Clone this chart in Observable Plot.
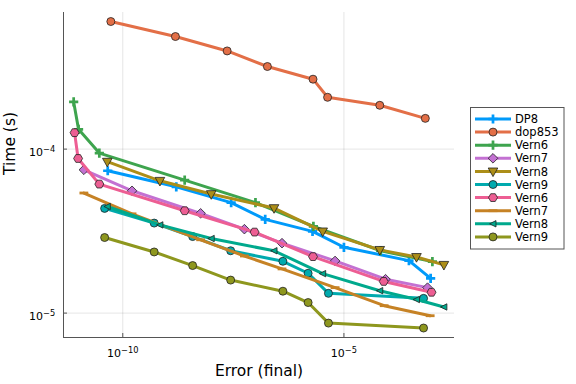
<!DOCTYPE html>
<html>
<head>
<meta charset="utf-8">
<script src="https://cdn.jsdelivr.net/npm/d3@7"></script>
<script src="https://cdn.jsdelivr.net/npm/@observablehq/plot@0.6"></script>
<style>
  html, body { margin: 0; padding: 0; background: white; }
</style>
</head>
<body>
<div id="chart"></div>
<script>
// ---- data ----
const seriesNames = ["DP8", "dop853", "Vern6", "Vern7", "Vern8", "Vern9", "Vern6", "Vern7", "Vern8", "Vern9"];

const dp8Err = [4.57e-11, 1.62e-9, 2.82e-8, 1.66e-7, 1.95e-6, 1.0e-5, 2.95e-4, 9.12e-4];
const dp8Time = [7.38e-5, 5.89e-5, 4.72e-5, 3.73e-5, 3.15e-5, 2.52e-5, 2.09e-5, 1.63e-5];
const dop853Err = [5.37e-11, 1.55e-9, 2.29e-8, 1.86e-7, 2.0e-6, 4.27e-6, 6.46e-5, 6.92e-4];
const dop853Time = [6.0e-4, 4.86e-4, 3.97e-4, 3.19e-4, 2.67e-4, 2.07e-4, 1.85e-4, 1.54e-4];
const vern6Err = [7.76e-12, 1.0e-11, 2.95e-11, 2.51e-9, 1.0e-7, 2.04e-6, 6.76e-5, 1.0e-3];
const vern6Time = [1.94e-4, 1.32e-4, 9.46e-5, 6.47e-5, 4.72e-5, 3.38e-5, 2.40e-5, 2.06e-5];
const vern7Err = [1.32e-11, 1.62e-10, 5.75e-9, 5.62e-8, 3.98e-7, 6.31e-6, 8.71e-5, 7.76e-4];
const vern7Time = [7.48e-5, 5.57e-5, 4.06e-5, 3.25e-5, 2.67e-5, 2.08e-5, 1.61e-5, 1.43e-5];
const vern8Err = [4.47e-11, 6.92e-10, 1.0e-8, 2.63e-7, 3.31e-6, 6.46e-5, 4.37e-4, 1.82e-3];
const vern8Time = [8.38e-5, 6.41e-5, 5.32e-5, 4.37e-5, 3.15e-5, 2.43e-5, 2.20e-5, 1.97e-5];
const vern9Err = [3.89e-11, 5.13e-10, 3.80e-9, 2.75e-8, 4.17e-7, 1.55e-6, 4.47e-6, 6.31e-4];
const vern9Time = [4.35e-5, 3.54e-5, 2.93e-5, 2.40e-5, 2.07e-5, 1.75e-5, 1.32e-5, 1.23e-5];
const vern6bErr = [8.13e-12, 9.77e-12, 2.95e-11, 2.51e-9, 9.55e-8, 2.0e-6, 7.94e-5, 9.55e-4];
const vern6bTime = [1.26e-4, 8.77e-5, 6.12e-5, 4.21e-5, 3.12e-5, 2.21e-5, 1.56e-5, 1.34e-5];
const vern7bErr = [1.32e-11, 1.62e-10, 5.75e-9, 5.62e-8, 3.98e-7, 6.31e-6, 8.13e-5, 8.91e-4];
const vern7bTime = [5.40e-5, 4.03e-5, 2.80e-5, 2.23e-5, 1.86e-5, 1.43e-5, 1.11e-5, 9.64e-6];
const vern8bErr = [4.47e-11, 6.92e-10, 1.0e-8, 2.63e-7, 3.31e-6, 6.46e-5, 4.37e-4, 1.82e-3];
const vern8bTime = [4.47e-5, 3.45e-5, 2.85e-5, 2.40e-5, 1.74e-5, 1.37e-5, 1.21e-5, 1.09e-5];
const vern9bErr = [3.89e-11, 5.13e-10, 3.80e-9, 2.75e-8, 4.17e-7, 1.55e-6, 4.47e-6, 6.31e-4];
const vern9bTime = [2.89e-5, 2.36e-5, 1.95e-5, 1.59e-5, 1.36e-5, 1.16e-5, 8.69e-6, 8.11e-6];

const xTicks = [1e-10, 1e-5];
const yTicks = [1e-5, 1e-4];

// ---- styles ----
const colors = ["#009AFA", "#E36F47", "#3EA44E", "#C371D2", "#AC8E18", "#00AAAE", "#ED5E93", "#C68225", "#00A98D", "#8E971E"];

function poly(ctx, pts) {
  ctx.moveTo(pts[0][0], pts[0][1]);
  for (let i = 1; i < pts.length; i++) ctx.lineTo(pts[i][0], pts[i][1]);
  ctx.closePath();
}
const rOf = size => Math.sqrt(size / Math.PI);
const symPlus = { draw(ctx, size) { const r = rOf(size), a = r * 1.15, t = r * 0.34;
  poly(ctx, [[-t,-a],[t,-a],[t,-t],[a,-t],[a,t],[t,t],[t,a],[-t,a],[-t,t],[-a,t],[-a,-t],[-t,-t]]); } };
const symCircle = { draw(ctx, size) { const r = rOf(size); ctx.moveTo(r, 0); ctx.arc(0, 0, r, 0, 2 * Math.PI); } };
const symDiamond = { draw(ctx, size) { const r = rOf(size) * 1.2; poly(ctx, [[0,-r],[r,0],[0,r],[-r,0]]); } };
const symDTri = { draw(ctx, size) { const r = rOf(size); poly(ctx, [[-1.2*r,-0.85*r],[1.2*r,-0.85*r],[0,1.3*r]]); } };
const symHex = { draw(ctx, size) { const r = rOf(size) * 1.12; const p = [];
  for (let i = 0; i < 6; i++) { const a = Math.PI / 3 * i; p.push([r * Math.cos(a), r * Math.sin(a)]); } poly(ctx, p); } };
const symLTri = { draw(ctx, size) { const r = rOf(size); poly(ctx, [[-0.85*r,0],[0.75*r,-0.8*r],[0.75*r,0.8*r]]); } };
const symHLine = { draw(ctx, size) { const r = rOf(size); poly(ctx, [[-1.1*r,-0.35*r],[1.1*r,-0.35*r],[1.1*r,0.35*r],[-1.1*r,0.35*r]]); } };

const symbols = [symPlus, symCircle, symPlus, symDiamond, symDTri, symCircle, symHex, symHLine, symLTri, symCircle];
const outlined = [false, true, false, true, true, true, true, false, true, true];

const errs = [dp8Err, dop853Err, vern6Err, vern7Err, vern8Err, vern9Err, vern6bErr, vern7bErr, vern8bErr, vern9bErr];
const times = [dp8Time, dop853Time, vern6Time, vern7Time, vern8Time, vern9Time, vern6bTime, vern7bTime, vern8bTime, vern9bTime];

const series = seriesNames.map((name, i) => errs[i].map((e, j) => ({ err: e, time: times[i][j], k: i })));

const xDomain = [4.57e-12, 3.16e-3];
const yDomain = [7.1e-6, 6.81e-4];

const fmt = d => "10^" + Math.round(Math.log10(d));

const marks = [
  Plot.ruleX(xTicks, { stroke: "#000", strokeOpacity: 0.1, strokeWidth: 1 }),
  Plot.ruleY(yTicks, { stroke: "#000", strokeOpacity: 0.1, strokeWidth: 1 }),
  Plot.axisX(xTicks, { tickFormat: fmt, tickSize: -4, tickPadding: 15.5, label: null, stroke: "#555", fontSize: 11 }),
  Plot.axisY(yTicks, { tickFormat: fmt, tickSize: -4, tickPadding: 12.3, label: null, stroke: "#555", fontSize: 11 }),
  Plot.ruleX([xDomain[0]], { stroke: "#555", strokeWidth: 1 }),
  Plot.ruleY([yDomain[0]], { stroke: "#555", strokeWidth: 1 })
];
series.forEach((data, i) => {
  marks.push(Plot.line(data, { x: "err", y: "time", stroke: colors[i], strokeWidth: 3 }));
  marks.push(Plot.dot(data, { x: "err", y: "time", symbol: symbols[i], r: 4, fill: colors[i],
    stroke: outlined[i] ? "#222" : "none", strokeWidth: 0.8 }));
});
marks.push(Plot.text(["Error (final)"], { frameAnchor: "bottom", dy: 38.5, fontSize: 15.5 }));
marks.push(Plot.text(["Time (s)"], { frameAnchor: "left", rotate: -90, dx: -53, fontSize: 15.5 }));

const chart = Plot.plot({
  width: 576, height: 384,
  marginLeft: 63, marginRight: 122, marginTop: 12, marginBottom: 47,
  style: { fontFamily: "DejaVu Sans", fontSize: "11px", background: "white", color: "#000" },
  x: { type: "log", domain: xDomain },
  y: { type: "log", domain: yDomain },
  marks
});

// superscript tick labels
const svg = d3.select(chart);
svg.selectAll('g[aria-label="x-axis tick label"] text, g[aria-label="y-axis tick label"] text').each(function () {
  const s = this.textContent;
  if (!s.includes("^")) return;
  const [base, exp] = s.split("^");
  const t = d3.select(this);
  t.text(null);
  t.append("tspan").text(base);
  t.append("tspan").attr("dy", "-0.45em").attr("font-size", "0.75em").text(exp.replace("-", "\u2212"));
});
svg.selectAll('g[aria-label="y-axis tick label"] text').each(function () {
  const tr = this.getAttribute("transform") || "";
  this.setAttribute("transform", tr + " translate(0,3)");
});

// legend
const lg = svg.append("g").attr("font-family", "DejaVu Sans").attr("font-size", "11.5px").attr("text-anchor", "start");
lg.append("rect").attr("x", 470.5).attr("y", 107.5).attr("width", 93.5).attr("height", 141.5)
  .attr("fill", "white").attr("stroke", "#555").attr("stroke-width", 1);
seriesNames.forEach((name, i) => {
  const y = 119 + i * 13.1;
  lg.append("line").attr("x1", 475).attr("x2", 511).attr("y1", y).attr("y2", y)
    .attr("stroke", colors[i]).attr("stroke-width", 3);
  lg.append("path").attr("transform", `translate(493,${y})`)
    .attr("d", d3.symbol(symbols[i], 16 * Math.PI)())
    .attr("fill", colors[i]).attr("stroke", outlined[i] ? "#222" : "none").attr("stroke-width", 0.8);
  lg.append("text").attr("x", 515).attr("y", y).attr("dy", "0.36em").attr("text-anchor", "start")
    .attr("fill", "#000").text(name);
});

document.getElementById("chart").appendChild(chart);
</script>
</body>
</html>
